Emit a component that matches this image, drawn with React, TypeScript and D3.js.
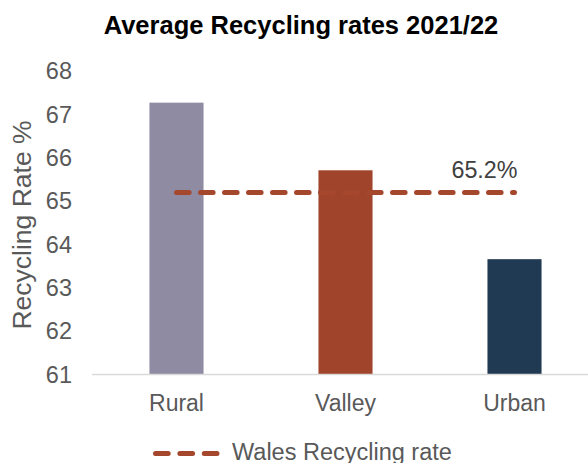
import React from "react";
import * as d3 from "d3";

const categories = ["Rural", "Valley", "Urban"];
const values = [67.27, 65.71, 63.66];
const barColors = ["#8f8ba3", "#a0442b", "#213a53"];
const walesRate = 65.2;
const walesLabel = "65.2%";
const yTicks = [61, 62, 63, 64, 65, 66, 67, 68];
const title = "Average Recycling rates 2021/22";
const yTitle = "Recycling Rate %";
const legendLabel = "Wales Recycling rate";

const W = 588;
const H = 463;
const FONT = "'Liberation Sans', Arial, sans-serif";

export default function App() {
  const x = d3
    .scaleBand<string>()
    .domain(categories)
    .range([92, 599])
    .paddingInner(0.68)
    .paddingOuter(0.34);
  const y = d3.scaleLinear().domain([61, 68]).range([374.5, 71]);
  const xc = (c: string) => (x(c) as number) + x.bandwidth() / 2;
  const lineGen = d3
    .line<string>()
    .x((c) => xc(c))
    .y(() => y(walesRate));
  const dash = "#a5472d";

  return (
    <svg
      width={W}
      height={H}
      style={{ position: "absolute", left: 0, top: 0, background: "#fff" }}
      fontFamily={FONT}
    >
      <text x={301} y={34} textAnchor="middle" fontSize={25.5} fontWeight="bold" fill="#000">
        {title}
      </text>
      <text
        transform={`translate(31,225) rotate(-90)`}
        textAnchor="middle"
        fontSize={26.5}
        fill="#595959"
      >
        {yTitle}
      </text>
      {yTicks.map((t) => (
        <text key={t} x={72} y={y(t)} dy="0.35em" textAnchor="end" fontSize={23.5} fill="#595959">
          {t}
        </text>
      ))}
      {categories.map((c, i) => (
        <rect
          key={c}
          x={x(c)}
          y={y(values[i])}
          width={x.bandwidth()}
          height={y(61) - y(values[i])}
          fill={barColors[i]}
        />
      ))}
      <line x1={92} x2={W} y1={y(61)} y2={y(61)} stroke="#d9d9d9" strokeWidth={1.5} />
      {categories.map((c) => (
        <text key={c} x={xc(c)} y={411} textAnchor="middle" fontSize={23} fill="#595959">
          {c}
        </text>
      ))}
      <path
        d={lineGen(categories) || ""}
        fill="none"
        stroke={dash}
        strokeWidth={5}
        strokeDasharray="12.6 11.4"
        strokeLinecap="round"
      />
      <text x={xc("Urban") + 3} y={178} textAnchor="end" fontSize={23.3} fill="#404040">
        {walesLabel}
      </text>
      <path
        d={`M155.5,453.5 H217.5`}
        fill="none"
        stroke={dash}
        strokeWidth={5}
        strokeDasharray="12.7 11.7"
        strokeLinecap="round"
      />
      <text x={232} y={460} fontSize={23.5} fill="#595959">
        {legendLabel}
      </text>
    </svg>
  );
}
